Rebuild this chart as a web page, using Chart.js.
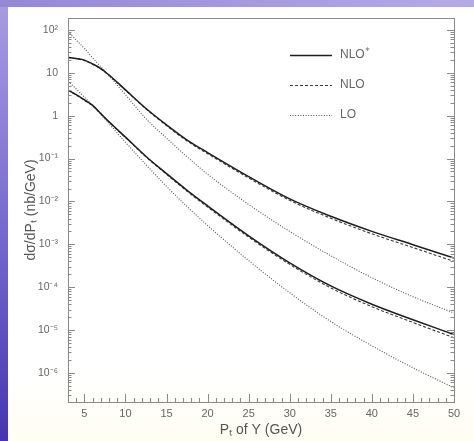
<!DOCTYPE html>
<html>
<head>
<meta charset="utf-8">
<script src="https://cdn.jsdelivr.net/npm/chart.js@4.4.1/dist/chart.umd.min.js"></script>
<style>
  html, body { margin: 0; padding: 0; }
  #wrap {
    width: 474px; height: 441px; position: relative;
    background:
      linear-gradient(to right, #9488d4, #b4abe4) top left / 100% 7px no-repeat,
      linear-gradient(to bottom, #a99de0, #7466cc 55%, #4536b0) top left / 8px 100% no-repeat,
      linear-gradient(to bottom, #ffffff 85%, #fffdf2);
  }
  canvas { position: absolute; left: 0; top: 0; }
</style>
</head>
<body>
<div id="wrap"><canvas id="chart" width="474" height="441"></canvas></div>
<script>
// P_t of Upsilon (GeV)
const ptValues = [3, 4, 5, 6, 7, 8, 10, 12.5, 15, 17.5, 20, 25, 30, 35, 40, 45, 50];

// upper group of curves
const upperNLOstar = [23, 21.6, 19.8, 16.1, 12.6, 8.9, 4.0, 1.47, 0.61, 0.27, 0.138, 0.038, 0.0115, 0.0045, 0.0020, 0.00098, 0.00048];
const upperNLO     = [22.6, 21.2, 19.4, 15.8, 12.3, 8.7, 3.92, 1.43, 0.585, 0.257, 0.130, 0.0353, 0.0106, 0.00405, 0.00176, 0.00084, 0.00040];
const upperLO      = [92, 58, 37, 22.4, 13.8, 8.5, 3.1, 0.85, 0.30, 0.11, 0.043, 0.0085, 0.0020, 0.00054, 0.000166, 0.00006, 0.000025];

// lower group of curves
const lowerNLOstar = [3.98, 3.09, 2.34, 1.74, 1.12, 0.72, 0.316, 0.112, 0.0447, 0.0182, 0.0079, 0.00158, 0.00037, 0.000107, 0.000040, 0.0000174, 0.0000079];
const lowerNLO     = [3.92, 3.03, 2.29, 1.70, 1.10, 0.705, 0.31, 0.109, 0.0429, 0.0173, 0.0074, 0.00147, 0.00034, 0.0000963, 0.0000352, 0.000015, 0.0000066];
const lowerLO      = [6.3, 4.2, 2.7, 1.74, 1.07, 0.65, 0.24, 0.072, 0.0224, 0.0076, 0.00275, 0.000417, 0.0000741, 0.0000158, 0.0000043, 0.00000132, 0.00000045];

// axis ticks
const xTickValues = [5, 10, 15, 20, 25, 30, 35, 40, 45, 50];
const yTickValues = [1e2, 1e1, 1, 1e-1, 1e-2, 1e-3, 1e-4, 1e-5, 1e-6];
const yTickLabels = ['10²', '10', '1', '10⁻¹', '10⁻²', '10⁻³', '10⁻⁴', '10⁻⁵', '10⁻⁶'];

const legendLabels = ['NLO', 'NLO', 'LO'];

function pts(values) {
  return ptValues.map((x, i) => ({ x: x, y: values[i] }));
}

const solid = { borderColor: '#1e1e1e', borderWidth: 1.5, borderDash: [] };
const dashed = { borderColor: '#3a3a3a', borderWidth: 1.1, borderDash: [3, 2] };
const dotted = { borderColor: '#555555', borderWidth: 1.1, borderDash: [1, 1.6] };

function ds(values, style) {
  return Object.assign({
    data: pts(values),
    pointRadius: 0,
    fill: false,
    cubicInterpolationMode: 'monotone'
  }, style);
}

// frame, inward ticks and the legend
const framePlugin = {
  id: 'frame',
  afterDraw(chart) {
    const { ctx, chartArea: a, scales } = chart;
    const xs = scales.x, ys = scales.y;
    ctx.save();
    ctx.strokeStyle = '#8a8a8a';
    ctx.lineWidth = 1;
    ctx.strokeRect(Math.round(a.left) + 0.5, Math.round(a.top) + 0.5,
      Math.round(a.right - a.left), Math.round(a.bottom - a.top));

    ctx.beginPath();
    // x ticks every 1 GeV, longer on multiples of 5
    for (let v = 4; v <= 50; v++) {
      const px = Math.round(xs.getPixelForValue(v)) + 0.5;
      const len = v % 5 === 0 ? 8 : 4;
      ctx.moveTo(px, a.bottom);
      ctx.lineTo(px, a.bottom - len);
    }
    // log ticks on left and right
    for (let e = -7; e <= 2; e++) {
      for (let m = 1; m <= 9; m++) {
        const v = m * Math.pow(10, e);
        if (v < ys.min || v > ys.max) continue;
        const py = Math.round(ys.getPixelForValue(v)) + 0.5;
        const len = m === 1 ? 7 : 3.5;
        ctx.moveTo(a.left, py);
        ctx.lineTo(a.left + len, py);
        ctx.moveTo(a.right, py);
        ctx.lineTo(a.right - len, py);
      }
    }
    ctx.stroke();

    // legend
    const styles = [solid, dashed, dotted];
    const rowsY = [55, 85, 115];
    ctx.textBaseline = 'middle';
    styles.forEach((s, i) => {
      ctx.beginPath();
      ctx.strokeStyle = s.borderColor;
      ctx.lineWidth = s.borderWidth;
      ctx.setLineDash(s.borderDash);
      ctx.moveTo(290, rowsY[i] + 0.5);
      ctx.lineTo(332, rowsY[i] + 0.5);
      ctx.stroke();
      ctx.setLineDash([]);
      ctx.fillStyle = '#666';
      ctx.font = '12px "Liberation Sans", sans-serif';
      ctx.fillText(legendLabels[i], 340, rowsY[i]);
      if (i === 0) {
        const w = ctx.measureText(legendLabels[i]).width;
        ctx.font = '9px "DejaVu Sans", sans-serif';
        ctx.fillText('*', 340 + w + 0.5, rowsY[i] - 3);
      }
    });
    ctx.restore();
  }
};

new Chart(document.getElementById('chart'), {
  type: 'line',
  data: {
    datasets: [
      ds(upperNLOstar, solid), ds(upperNLO, dashed), ds(upperLO, dotted),
      ds(lowerNLOstar, solid), ds(lowerNLO, dashed), ds(lowerLO, dotted)
    ]
  },
  options: {
    responsive: false,
    animation: false,
    layout: { padding: { left: 0, right: 20, top: 18, bottom: 0 } },
    plugins: { legend: { display: false }, tooltip: { enabled: false } },
    scales: {
      x: {
        type: 'linear',
        min: 3,
        max: 50,
        grid: { display: false, drawTicks: false },
        border: { display: false },
        afterBuildTicks: s => { s.ticks = xTickValues.map(v => ({ value: v })); },
        afterFit: s => { s.height = 39; },
        ticks: {
          autoSkip: false, maxRotation: 0, padding: 5, color: '#666',
          font: { family: 'Liberation Sans', size: 11 }
        },
        title: {
          display: true, text: 'Pₜ of Υ (GeV)', color: '#555',
          font: { family: 'Liberation Sans', size: 14 },
          padding: { top: 0, bottom: 2 }
        }
      },
      y: {
        type: 'logarithmic',
        min: 2.1e-7,
        max: 190,
        grid: { display: false, drawTicks: false },
        border: { display: false },
        afterBuildTicks: s => { s.ticks = yTickValues.map(v => ({ value: v, major: true })); },
        afterFit: s => { s.width = 68; },
        ticks: {
          autoSkip: false, padding: 10, color: '#666',
          font: { family: 'Liberation Sans', size: 10.5 },
          callback: v => yTickLabels[yTickValues.indexOf(v)]
        },
        title: {
          display: true, text: 'dσ/dPₜ (nb/GeV)', color: '#555',
          font: { family: 'Liberation Sans', size: 14 },
          padding: { top: 23, bottom: 0 }
        }
      }
    }
  },
  plugins: [framePlugin]
});
</script>
</body>
</html>
